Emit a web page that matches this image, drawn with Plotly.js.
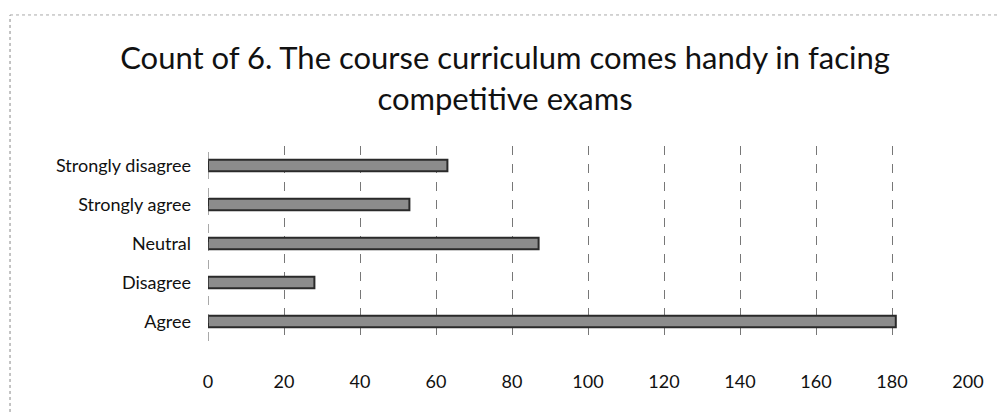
<!DOCTYPE html>
<html>
<head>
<meta charset="utf-8">
<script src="https://cdn.plot.ly/plotly-3.0.1.min.js"></script>
<style>html,body{margin:0;padding:0;background:#fff;}#chart{width:1000px;height:412px;}</style>
</head>
<body>
<div id="chart"></div>
<script>
var categories = ["Agree", "Disagree", "Neutral", "Strongly agree", "Strongly disagree"];
var counts = [181, 28, 87, 53, 63];
var xTicks = [0, 20, 40, 60, 80, 100, 120, 140, 160, 180, 200];
var titleText = "Count of 6. The course curriculum comes handy in facing<br>competitive exams";

var FONT = "Lato, 'Open Sans', sans-serif";

var trace = {
  type: "bar",
  orientation: "h",
  y: categories,
  x: counts,
  width: 0.3,
  marker: {color: "#8c8c8c", line: {color: "#2a2a2a", width: 2}},
  hoverinfo: "none"
};

var layout = {
  width: 1000, height: 412,
  paper_bgcolor: "#fff", plot_bgcolor: "#fff",
  margin: {l: 208, r: 32, t: 146, b: 71},
  showlegend: false,
  title: {
    text: titleText,
    x: 0.505, xanchor: "center", y: 0.832, yanchor: "top",
    font: {family: FONT, size: 31, color: "#111"}
  },
  xaxis: {
    range: [0, 200], tickvals: xTicks, ticktext: xTicks.map(String),
    showgrid: true, gridcolor: "#777", gridwidth: 1, griddash: "dash",
    zeroline: false, showline: false, ticks: "",
    ticklabelstandoff: 28,
    tickfont: {family: FONT, size: 18, color: "#111"}
  },
  yaxis: {
    categoryorder: "array", categoryarray: categories,
    showgrid: false, zeroline: false, showline: false, ticks: "",
    ticklabelstandoff: 16,
    tickfont: {family: FONT, size: 18, color: "#111"}
  },
  shapes: [
    {type: "line", xref: "paper", yref: "paper", x0: -0.2605, x1: -0.2605, y0: -0.364, y1: 1.672, line: {color: "#888", width: 1, dash: "dot"}},
    {type: "line", xref: "paper", yref: "paper", x0: -0.2605, x1: 1.042, y0: 1.672, y1: 1.672, line: {color: "#aaa", width: 1, dash: "dot"}},
    {type: "line", xref: "x", yref: "paper", x0: 0, x1: 0, y0: 0, y1: 1, line: {color: "#555", width: 1, dash: "dash"}}
  ]
};

Plotly.newPlot("chart", [trace], layout, {displayModeBar: false, staticPlot: true});
</script>
</body>
</html>
